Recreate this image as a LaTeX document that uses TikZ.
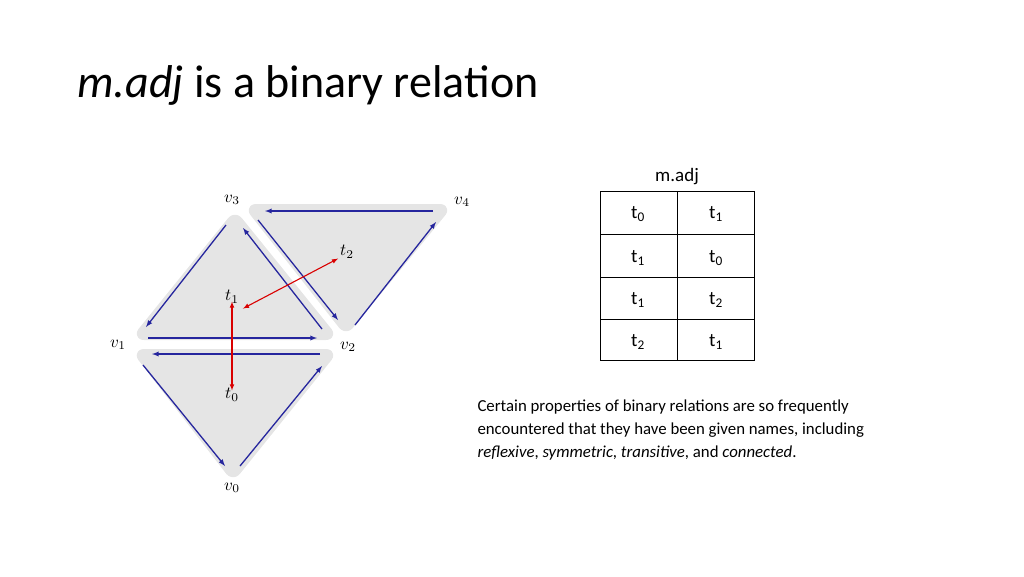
\documentclass[tikz,border=0pt]{standalone}
\usepackage{fontspec}
\setmainfont{Carlito}
\usepackage{tikz}

\begin{document}
\begin{tikzpicture}[x=1pt,y=-1pt]
                \useasboundingbox (0,0) rectangle (1024,576);
                \tikzset{face/.style={fill=black!10, draw=black!10, line width=8pt, rounded corners=6pt, line join=round},
                  edge/.style={->, >=latex, blue!55!black!85, line width=1.3pt},
                  adj/.style={<->, >=latex, red!85!black, line width=1.1pt},
                  lbl/.style={scale=1.7, transform shape, inner sep=1pt}}
                % Title
                \node[anchor=west, font=\fontsize{46}{46}\selectfont] (title) at (74,85) {\textit{m.adj} is a binary relation};
                
                % Faces
                \fill[face] (138,336) -- (332,336) -- (235,216) -- cycle;
                \fill[face] (138,353) -- (332,353) -- (233,476) -- cycle;
                \fill[face] (250,208) -- (446,208) -- (346,330) -- cycle;
                
                % Labels
                \node[lbl] (v0) at (232,488) {$v_0$};
                \node[lbl] (v1) at (118,345) {$v_1$};
                \node[lbl] (v2) at (348,347) {$v_2$};
                \node[lbl] (v3) at (232,200) {$v_3$};
                \node[lbl] (v4) at (462,202) {$v_4$};
                \node[lbl] (t0) at (232,395) {$t_0$};
                \node[lbl] (t1) at (232,297) {$t_1$};
                \node[lbl] (t2) at (347,252) {$t_2$};
                
                % Half-edges
                \draw[edge] (226,225) -- (146,327);
                \draw[edge] (148,338) -- (317,338);
                \draw[edge] (322,329) -- (243,228);
                \draw[edge] (320,354) -- (152,354);
                \draw[edge] (143,365) -- (225,466);
                \draw[edge] (240,466) -- (322,366);
                \draw[edge] (433,211) -- (265,211);
                \draw[edge] (258,220) -- (338,320);
                \draw[edge] (355,325) -- (436,222);
                
                % Adjacency
                \draw[adj] ([xshift=2pt,yshift=-3pt]t1.south east) -- ([yshift=2pt]t2.south west);
                \draw[adj] ([yshift=4pt]t1.south) -- ([yshift=-4pt]t0.north);
                
                % Table
                \node[font=\fontsize{19}{19}\selectfont] (head) at (677,177) {m.adj};
                \draw (600,191) rectangle (754,360);
                \draw (677,191) -- (677,360);
                \foreach \y in {234,277,319} \draw (600,\y) -- (754,\y);
                \foreach \a/\b/\y in {0/1/214,1/0/258,1/2/300,2/1/342}{
                  \node[font=\fontsize{19}{19}\selectfont] at (638,\y) {t\textsubscript{\a}};
                  \node[font=\fontsize{19}{19}\selectfont] at (716,\y) {t\textsubscript{\b}};
                }
                
                % Caption
                \node[anchor=north west, align=left, font=\fontsize{16.8}{23}\selectfont] (text) at (474,396)
                  {Certain properties of binary relations are so frequently\\
                   encountered that they have been given names, including\\
                   \textit{reflexive}, \textit{symmetric}, \textit{transitive}, and \textit{connected}.};
            \end{tikzpicture}
\end{document}
